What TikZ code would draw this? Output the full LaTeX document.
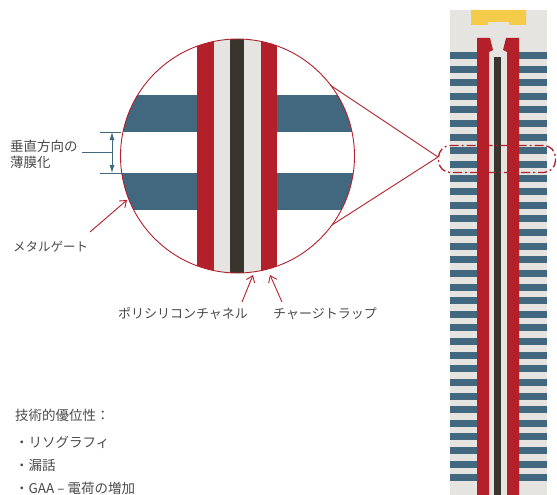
\documentclass[tikz,border=0pt]{standalone}
\usepackage{fontspec}
\newfontfamily\jp{Noto Sans CJK JP}
\usetikzlibrary{arrows.meta}
\definecolor{gateblue}{HTML}{41687E}
\definecolor{trapred}{HTML}{B3202A}
\definecolor{core}{HTML}{38342E}
\definecolor{chan}{HTML}{E5E4E0}
\definecolor{capyel}{HTML}{F5CC4A}
\definecolor{txt}{HTML}{4A4A4A}
\tikzset{
  lbl/.style={font=\jp\fontsize{13.5}{16}\selectfont, text=txt, inner sep=0pt, anchor=west},
  smalllbl/.style={font=\jp\fontsize{13}{16}\selectfont, text=txt, inner sep=0pt},
  redline/.style={draw=trapred, line width=0.9pt},
  pointer/.style={redline, -{Straight Barb[length=6pt,width=9pt]}},
  dimline/.style={draw=gateblue, line width=0.8pt},
}
\begin{document}
\begin{tikzpicture}[x=1pt, y=-1pt]
\useasboundingbox (0,0) rectangle (557,495);

% ---- magnified cross-section ----
\coordinate (cc) at (237.5,156);
\begin{scope}
  \clip (cc) circle (117);
  \fill[white] (cc) circle (117);
  \fill[gateblue] (110,95) rectangle (197,132);
  \fill[gateblue] (110,173) rectangle (197,210);
  \fill[gateblue] (277,95) rectangle (360,132);
  \fill[gateblue] (277,173) rectangle (360,210);
  \fill[trapred] (197,30) rectangle (214,280);
  \fill[chan] (214,30) rectangle (230,280);
  \fill[core] (230,30) rectangle (244,280);
  \fill[chan] (244,30) rectangle (261,280);
  \fill[trapred] (261,30) rectangle (277,280);
\end{scope}
\node[draw=trapred, line width=0.9pt, circle, minimum size=234pt, inner sep=0pt] (lens) at (cc) {};

% ---- full string ----
\fill[chan] (450,10) rectangle (547,495);
\fill[capyel] (471,10) -- (526,10) -- (526,25) -- (509,25) -- (509,22) -- (488,22) -- (488,25) -- (471,25) -- cycle;
\foreach \n in {0,...,31} {
  \pgfmathsetmacro{\yy}{52+13.62*\n}
  \fill[gateblue] (450,\yy) rectangle (477,\yy+7);
  \fill[gateblue] (519,\yy) rectangle (547,\yy+7);
}
\fill[trapred] (477,38) -- (490,38) -- (493,50) -- (489,52) -- (489,495) -- (477,495) -- cycle;
\fill[trapred] (519,38) -- (506,38) -- (503,50) -- (507,52) -- (507,495) -- (519,495) -- cycle;
\fill[core] (494,57) rectangle (501,495);

% ---- zoom window and its rays ----
\node[draw=trapred, line width=1.3pt, dash pattern=on 9pt off 3pt on 2pt off 3pt,
      rounded corners=12pt, minimum width=117pt, minimum height=27pt, inner sep=0pt]
      (win) at (497,159) {};
\coordinate (apex) at (438,157);
\coordinate (rayA) at (330,85);
\coordinate (rayB) at (332,225);
\draw[redline] (rayA) -- (apex) -- (rayB);

% ---- vertical thinning dimension ----
\coordinate (dimT) at (112,132);
\coordinate (dimB) at (112,173);
\draw[dimline] (100,132) -- (121,132);
\draw[dimline] (100,173) -- (122,173);
\draw[dimline, {Latex[length=8pt,width=5pt]}-{Latex[length=8pt,width=5pt]}] (dimT) -- (dimB);
\node[lbl] (thin1) at (10,146) {垂直方向の};
\node[lbl] (thin2) at (10,162) {薄膜化};
\coordinate (dimM) at (112,152);
\draw[dimline] (82,152) -- (dimM);

% ---- callouts ----
\node[lbl, font=\jp\fontsize{12.5}{15}\selectfont] (gate) at (13,247) {メタルゲート};
\coordinate (gateTail) at (90,232);
\coordinate (gateTip) at (127,200);
\draw[pointer] (gateTail) -- (gateTip);

\node[smalllbl] (poly) at (183,314) {ポリシリコンチャネル};
\node[smalllbl] (trap) at (325,314) {チャージトラップ};
\coordinate (polyTip) at (253,275);
\coordinate (trapTip) at (270,275);
\draw[pointer] (242,302) -- (polyTip);
\draw[pointer] (282,302) -- (trapTip);

% ---- advantages ----
\node[lbl] (adv) at (15,415) {技術的優位性：};
\node[lbl] (b1) at (15,442) {・リソグラフィ};
\node[lbl] (b2) at (15,465) {・漏話};
\node[lbl] (b3) at (15,488) {・GAA – 電荷の増加};
\end{tikzpicture}
\end{document}
